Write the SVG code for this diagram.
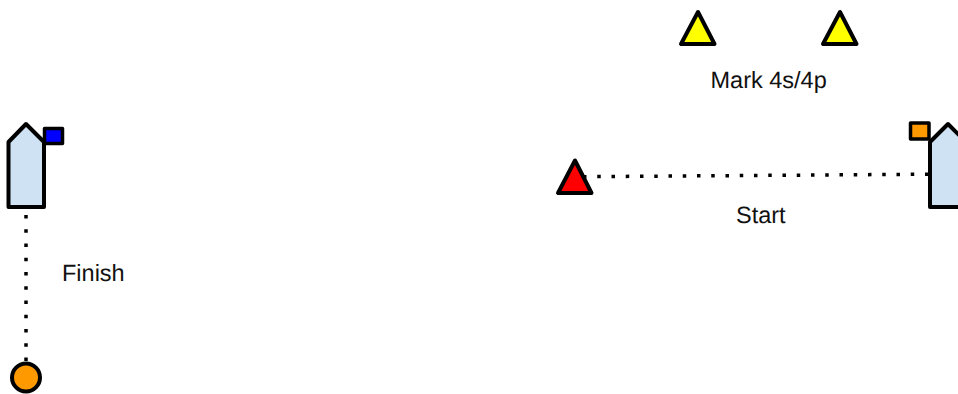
<svg xmlns="http://www.w3.org/2000/svg" width="958" height="394" viewBox="0 0 958 394">
<style>
.o{stroke:#000;stroke-width:4;stroke-linejoin:round}
.f{stroke-width:3.5}
.boat{fill:#cfe2f3}
.t{font-family:"Liberation Sans",Arial,sans-serif;font-size:23.500px;fill:#111;text-rendering:geometricPrecision}
.d{fill:none;stroke:#000;stroke-width:3.5;stroke-dasharray:3.5 10.75}
</style>
<rect width="958" height="394" fill="#fff"/>
<g id="connectors">
<path class="d" d="M26 215V362"/>
<path class="d" d="M583 176.700L928 174.200"/>
</g>
<g id="finish-boat">
<path class="o boat" d="M8.500 142L26 124L44 142V207H8.500Z"/>
<rect class="o f" x="44.500" y="128.500" width="18" height="15" fill="#0000ff"/>
</g>
<g id="finish-mark"><circle class="o" cx="26" cy="377.500" r="14" fill="#ff9900"/></g>
<g id="finish-label"><text class="t" x="62" y="281">Finish</text></g>
<g id="start-mark"><path class="o" d="M575 160.500L558 193H591.500Z" fill="#ff0000"/></g>
<g id="start-label"><text class="t" x="736" y="223">Start</text></g>
<g id="start-boat">
<path class="o boat" d="M930 142L948 124L966 142V207H930Z"/>
<rect class="o f" x="910.500" y="123" width="18.500" height="16" fill="#ff9900"/>
</g>
<g id="mark-a"><path class="o" d="M698 12L681 44H714.500Z" fill="#ffff00"/></g>
<g id="mark-b"><path class="o" d="M840 12L823 44H856.500Z" fill="#ffff00"/></g>
<g id="mark-label"><text class="t" x="710.500" y="88">Mark 4s/4p</text></g>
</svg>
